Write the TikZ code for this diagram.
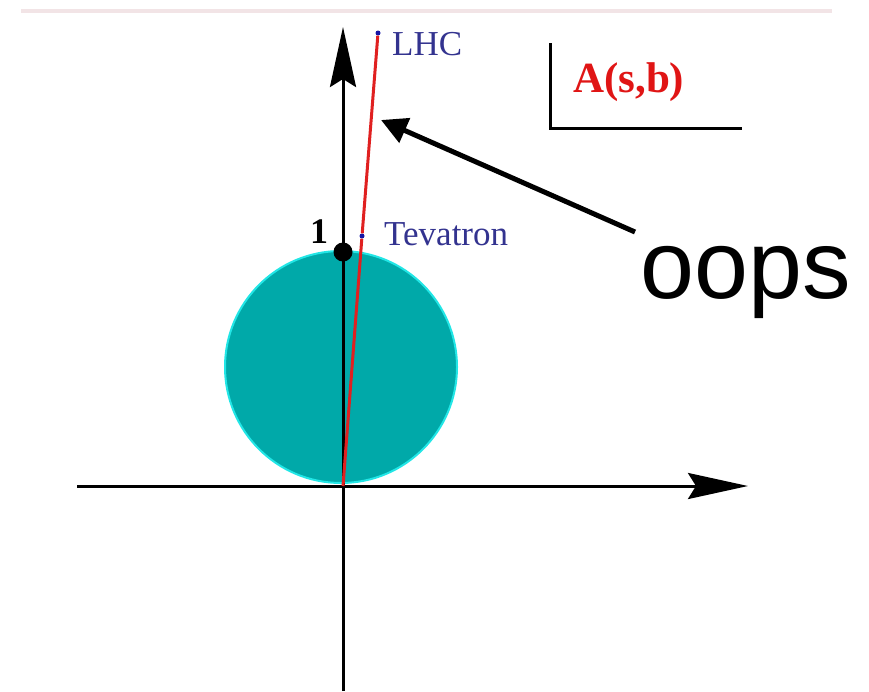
\documentclass[tikz,border=0pt]{standalone}
\usepackage{fontspec}
\setmainfont{Liberation Serif}
\setsansfont{Liberation Sans}
\usetikzlibrary{arrows.meta}
\definecolor{rulepink}{HTML}{F2E4E6}
\definecolor{diskfill}{HTML}{00A9A9}
\definecolor{diskedge}{HTML}{22E6E6}
\definecolor{labblue}{HTML}{33338F}
\definecolor{dotblue}{HTML}{1515A5}
\definecolor{labred}{HTML}{E01515}
\definecolor{linered}{HTML}{E02020}
\begin{document}
\begin{tikzpicture}[x=1pt,y=-1pt,
	axis/.style={line width=3pt,-{Stealth[length=60pt,width=26pt,inset=8pt]}},
	spot/.style={circle,fill,inner sep=0pt,minimum size=#1},
	lab/.style={font=\fontsize{35}{42}\selectfont,text=labblue,inner sep=0pt,anchor=base west}]
	\useasboundingbox (0,0) rectangle (869,691);
	\draw[rulepink,line width=4pt] (21,11) -- (832,11);
	\fill[diskfill] (341,367) circle[radius=116pt];
	\draw[diskedge,line width=2pt] (341,367) circle[radius=116pt];
	\coordinate (O) at (343,486);
	\draw[axis] (77,486) -- (748,486);
	\draw[axis] (343,691) -- (343,27);
	\node[spot=19pt] (one) at (343,252) {};
	\node[inner sep=0pt,anchor=base west,font=\bfseries\fontsize{36}{42}\selectfont] (onelab) at (310,243) {1};
	\node[spot=5pt,dotblue] (lhc) at (378,33) {};
	\node[spot=5pt,dotblue] (tev) at (362,236) {};
	\draw[linered,line width=3pt] (O) -- (tev) -- (lhc);
	\node[lab] (lhclab) at (392,55) {LHC};
	\node[lab] (tevlab) at (384,245) {Tevatron};
	\draw[line width=3pt] (550,43) -- (550,128) -- (742,128);
	\node[inner sep=0pt,anchor=base west,text=labred,font=\bfseries\fontsize{43}{48}\selectfont] (amp) at (573,92) {A(s,b)};
	\node[inner sep=0pt,anchor=base west,font=\sffamily\fontsize{97}{104}\selectfont] (oops) at (640,298) {oops};
	\coordinate (tail) at (635,232);
	\coordinate (tip) at (381,120);
	\draw[line width=5pt,-{Triangle[length=26pt,width=26pt]}] (tail) -- (tip);
\end{tikzpicture}
\end{document}
